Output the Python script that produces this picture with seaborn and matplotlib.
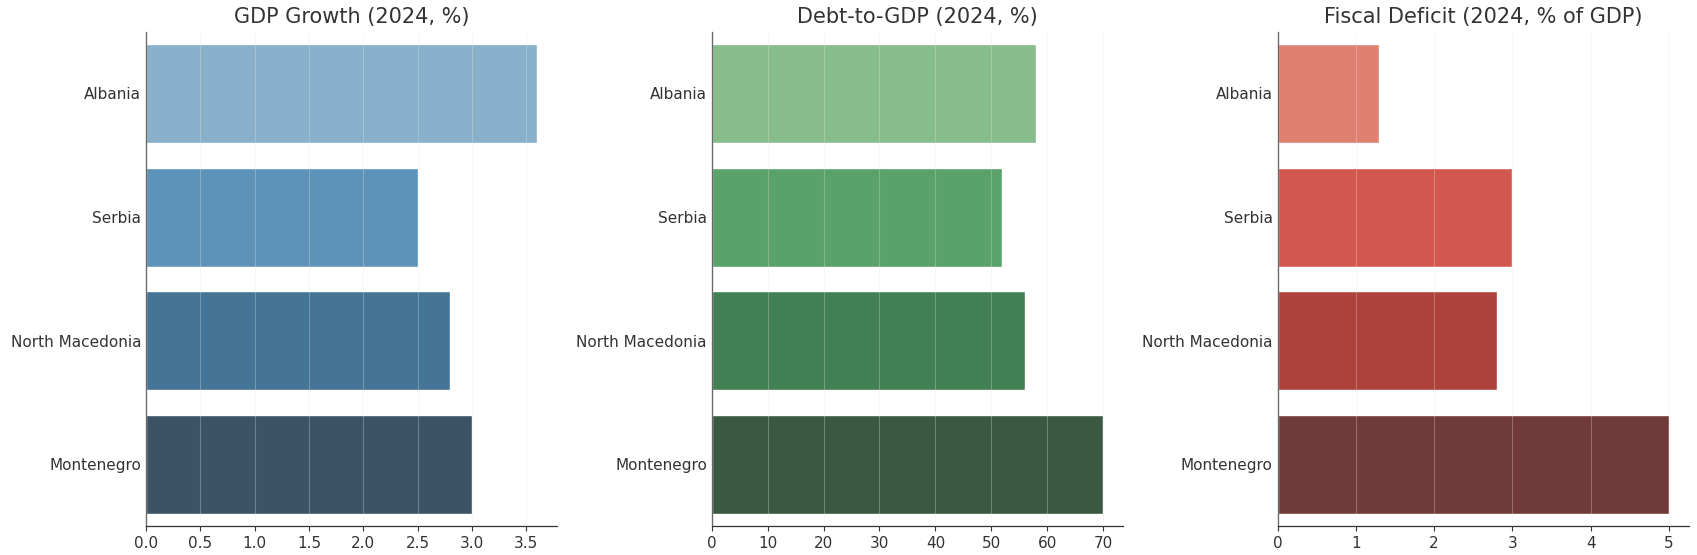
import pandas as pd
import matplotlib
matplotlib.use('Agg')
import matplotlib.pyplot as plt
import seaborn as sns

# data (2024)
countries = ['Albania', 'Serbia', 'North Macedonia', 'Montenegro']
gdp_growth = [3.6, 2.5, 2.8, 3.0]
debt_to_gdp = [58, 52, 56, 70]
fiscal_deficit = [1.3, 3.0, 2.8, 5.0]

panels = [
    ('GDP Growth (2024, %)', gdp_growth, 'Blues_d'),
    ('Debt-to-GDP (2024, %)', debt_to_gdp, 'Greens_d'),
    ('Fiscal Deficit (2024, % of GDP)', fiscal_deficit, 'Reds_d'),
]

# style set
sns.set_style('ticks')
plt.rcParams['font.family'] = ['DejaVu Sans']

fig, axes = plt.subplots(1, 3, figsize=(16.97, 5.55), dpi=100)
fig.subplots_adjust(left=0.086, right=0.995, top=0.943, bottom=0.052, wspace=0.377)

for ax, (title, values, pal) in zip(axes, panels):
    df = pd.DataFrame({'Country': countries, 'Value': values})
    sns.barplot(data=df, x='Value', y='Country', hue='Country',
                palette=pal, legend=False, ax=ax)
    ax.set_axisbelow(False)
    ax.grid(axis='x', color='#e6e6e6', linewidth=0.8, alpha=0.3)
    ax.set_title(title, fontsize=15, color='#333333', pad=6)
    ax.set_xlabel('')
    ax.set_ylabel('')
    ax.tick_params(axis='both', labelsize=11, colors='#333333')
    ax.tick_params(axis='y', length=0)
    for side in ['left', 'bottom']:
        ax.spines[side].set_color('#333333')
        ax.spines[side].set_linewidth(0.9)
    sns.despine(ax=ax)

plt.savefig('out.png', dpi=100)
